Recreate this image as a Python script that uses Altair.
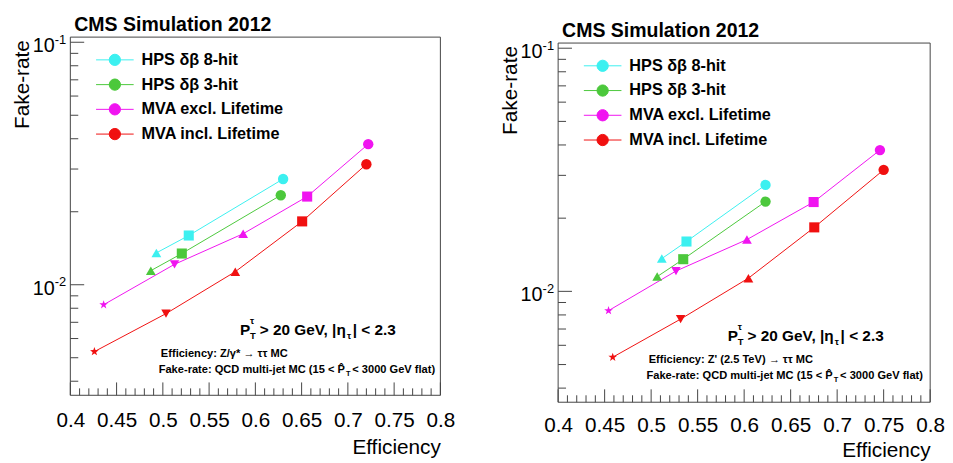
import altair as alt
import pandas as pd

# ---------------- data ----------------
SERIES = ["HPS δβ 8-hit", "HPS δβ 3-hit", "MVA excl. Lifetime", "MVA incl. Lifetime"]
COLORS = ["#3cf0f0", "#4cc83c", "#f014f0", "#f01010"]
WP_ORDER = ["VVTight", "VTight", "Tight", "Medium", "Loose"]
HPS_WP = ["Tight", "Medium", "Loose"]
MVA_WP = ["VVTight", "VTight", "Tight", "Medium", "Loose"]

# Left panel: efficiency from Z/gamma* -> tautau MC
L_HPS8_EFF = [0.493, 0.528, 0.630]
L_HPS8_FR = [0.01353, 0.01596, 0.0273]
L_HPS3_EFF = [0.487, 0.5205, 0.6275]
L_HPS3_FR = [0.01143, 0.01345, 0.0234]
L_MVAX_EFF = [0.436, 0.5126, 0.5868, 0.656, 0.722]
L_MVAX_FR = [0.00827, 0.01214, 0.01623, 0.0231, 0.0380]
L_MVAI_EFF = [0.426, 0.5034, 0.5783, 0.6506, 0.720]
L_MVAI_FR = [0.0053, 0.0076, 0.01132, 0.01825, 0.0314]

# Right panel: efficiency from Z' (2.5 TeV) -> tautau MC
R_HPS8_EFF = [0.5115, 0.538, 0.623]
R_HPS8_FR = [0.01364, 0.01603, 0.0274]
R_HPS3_EFF = [0.5065, 0.5345, 0.623]
R_HPS3_FR = [0.0115, 0.01356, 0.0234]
R_MVAX_EFF = [0.4542, 0.5267, 0.603, 0.6747, 0.746]
R_MVAX_FR = [0.00833, 0.01212, 0.01633, 0.0233, 0.0381]
R_MVAI_EFF = [0.4587, 0.5317, 0.6046, 0.6754, 0.750]
R_MVAI_FR = [0.00536, 0.00769, 0.01133, 0.01833, 0.0316]

# axis ticks and labels
X_MAJOR = [0.4, 0.45, 0.5, 0.55, 0.6, 0.65, 0.7, 0.75, 0.8]
X_MINOR = [round(0.4 + 0.01 * i, 2) for i in range(1, 40) if i % 5 != 0]
Y_MAJOR = [0.1, 0.01]
Y_LABEL_BASE = ["10", "10"]
Y_LABEL_EXP = ["-1", "-2"]
Y_MINOR = [0.004, 0.005, 0.006, 0.007, 0.008, 0.009,
           0.02, 0.03, 0.04, 0.05, 0.06, 0.07, 0.08, 0.09]

TITLE = "CMS Simulation 2012"
EFF_LEFT = "Efficiency: Z/γ* → ττ MC"
EFF_RIGHT = "Efficiency: Z' (2.5 TeV) → ττ MC"

FONT = "Liberation Sans"
FRAME = "#444444"

STAR = ("M0,-1L0.235,-0.324L0.951,-0.309L0.38,0.124L0.588,0.809L0,0.4"
        "L-0.588,0.809L-0.38,0.124L-0.951,-0.309L-0.235,-0.324Z")
LEG_SYMBOL = "M-2,0L2,0M0.6,0A0.6,0.6,0,1,1,-0.6,0A0.6,0.6,0,1,1,0.6,0Z"
SHAPES = [STAR, "triangle-down", "triangle-up", "square", "circle"]
SIZES = [85, 110, 100, 100, 120]


def make_df(hps8, hps3, mvax, mvai):
    rows = []
    for name, wps, (effs, frs) in [
        (SERIES[0], HPS_WP, hps8),
        (SERIES[1], HPS_WP, hps3),
        (SERIES[2], MVA_WP, mvax),
        (SERIES[3], MVA_WP, mvai),
    ]:
        for wp, e, f in zip(wps, effs, frs):
            rows.append({"series": name, "wp": wp, "eff": e, "fake": f})
    return pd.DataFrame(rows)


def x_enc(lab_pad, title_pad):
    return alt.X(
        "eff:Q",
        scale=alt.Scale(domain=[0.4, 0.8], nice=False, zero=False),
        axis=alt.Axis(values=X_MAJOR, format=".2~f", ticks=False, domain=False, grid=False,
                      labelFontSize=20.9, labelColor="black", labelPadding=lab_pad,
                      labelFlush=False, labelOverlap=False, title="Efficiency",
                      titleFontSize=21, titleFontWeight="normal", titleColor="black",
                      titleAnchor="end", titlePadding=title_pad),
    )


def y_enc(H, top):
    return alt.Y(
        "fake:Q",
        scale=alt.Scale(type="log", domain=[0.0035, 0.105], nice=False, range=[H, top]),
        axis=alt.Axis(values=Y_MAJOR, labels=False, ticks=False, domain=False, grid=False,
                      title="Fake-rate", titleFontSize=21, titleFontWeight="normal",
                      titleColor="black", titleAnchor="end", titleAlign="right",
                      titleBaseline="bottom", titleAngle=270, titleX=-38,
                      titleY=top + 2.5),
    )


def color_enc(top):
    return alt.Color(
        "series:N",
        scale=alt.Scale(domain=SERIES, range=COLORS),
        legend=alt.Legend(title=None, orient="none", legendX=35, legendY=13 + top,
                          symbolType=LEG_SYMBOL, symbolSize=361, symbolStrokeWidth=1,
                          symbolOpacity=1, labelFontSize=16.4, labelFontWeight="bold",
                          labelColor="black", labelOffset=17, rowPadding=6, padding=0,
                          labelLimit=0),
    )


def one():
    return alt.Data(values=[{"k": 1}])


def text_layer(txt, x, y, size, align="left", weight="bold"):
    return alt.Chart(one()).mark_text(
        text=txt, align=align, baseline="alphabetic", fontSize=size, fontWeight=weight,
        color="black", font=FONT,
    ).encode(x=alt.value(x), y=alt.value(y))


def panel(df, eff_text, W, H, top, lab_pad, title_pad):
    X = x_enc(lab_pad, title_pad)
    Y = y_enc(H, top)
    C = color_enc(top)
    frame = alt.Chart(one()).mark_rect(filled=False, stroke=FRAME, strokeWidth=1).encode(
        x=alt.value(0), x2=alt.value(W), y=alt.value(top), y2=alt.value(H))
    lines = alt.Chart(df).mark_line(strokeWidth=1).encode(
        x=X, y=Y, color=C, detail="series:N", order="eff:Q"
    )
    pts = alt.Chart(df).mark_point(filled=True, opacity=1).encode(
        x=X, y=Y, color=C,
        shape=alt.Shape("wp:N", scale=alt.Scale(domain=WP_ORDER, range=SHAPES), legend=None),
        size=alt.Size("wp:N", scale=alt.Scale(domain=WP_ORDER, range=SIZES), legend=None),
    )
    ylab = pd.DataFrame({"fake": Y_MAJOR, "base": Y_LABEL_BASE, "exp": Y_LABEL_EXP})
    ybase = alt.Chart(ylab).mark_text(align="right", baseline="middle", fontSize=20,
                                      dy=4, color="black", font=FONT).encode(
        y=Y, x=alt.value(-15.7), text="base:N")
    yexp = alt.Chart(ylab).mark_text(align="left", baseline="middle", fontSize=13,
                                     dy=-2.5, color="black", font=FONT).encode(
        y=Y, x=alt.value(-15.7), text="exp:N")
    ymaj = alt.Chart(pd.DataFrame({"fake": Y_MAJOR})).mark_rule(color=FRAME, strokeWidth=1).encode(
        y=Y, x=alt.value(0), x2=alt.value(14))
    ymin = alt.Chart(pd.DataFrame({"fake": Y_MINOR})).mark_rule(color=FRAME, strokeWidth=1).encode(
        y=Y, x=alt.value(0), x2=alt.value(8))
    xmaj = alt.Chart(pd.DataFrame({"eff": X_MAJOR})).mark_rule(color=FRAME, strokeWidth=1).encode(
        x=X, y=alt.value(H), y2=alt.value(H - 13))
    xmin = alt.Chart(pd.DataFrame({"eff": X_MINOR})).mark_rule(color=FRAME, strokeWidth=1).encode(
        x=X, y=alt.value(H), y2=alt.value(H - 7))

    t = top
    texts = [
        text_layer(TITLE, 4, t - 6, 19.7),
        text_layer("P", 171.5, t + 301.5, 15.5),
        text_layer("τ", 181.5, t + 290, 9.5),
        text_layer("T", 181.5, t + 305.5, 9.5),
        text_layer("> 20 GeV, |η", 191.5, t + 301.5, 15.5),
        text_layer("τ", 279.5, t + 305.5, 9.5),
        text_layer("| < 2.3", 285.5, t + 301.5, 15.5),
        text_layer(eff_text, 91.5, t + 323.5, 11.2),
        text_layer("Fake-rate: QCD multi-jet MC (15 < P̂", 277.5, t + 339.5, 11.2, align="right"),
        text_layer("T", 278.5, t + 342.5, 7.5),
        text_layer("< 3000 GeV flat)", 285, t + 339.5, 11.2),
    ]
    layers = [frame, ymaj, ymin, xmaj, xmin, lines, pts, ybase, yexp] + texts
    return alt.layer(*layers).properties(width=W, height=H)


left = panel(make_df((L_HPS8_EFF, L_HPS8_FR), (L_HPS3_EFF, L_HPS3_FR),
                     (L_MVAX_EFF, L_MVAX_FR), (L_MVAI_EFF, L_MVAI_FR)), EFF_LEFT,
             374, 362, 0, 14.5, 6.5)
right = panel(make_df((R_HPS8_EFF, R_HPS8_FR), (R_HPS3_EFF, R_HPS3_FR),
                      (R_MVAX_EFF, R_MVAX_FR), (R_MVAI_EFF, R_MVAI_FR)), EFF_RIGHT,
              376, 369, 6, 13, 4)

chart = alt.hconcat(left, right, spacing=45).resolve_scale(
    color="independent", shape="independent", size="independent"
).resolve_legend(color="independent").properties(
    padding={"left": 4, "top": 5, "right": 0, "bottom": 0}
).configure(font=FONT).configure_view(stroke=None)

chart.save("out.html", embed_options={"renderer": "svg", "actions": False})
